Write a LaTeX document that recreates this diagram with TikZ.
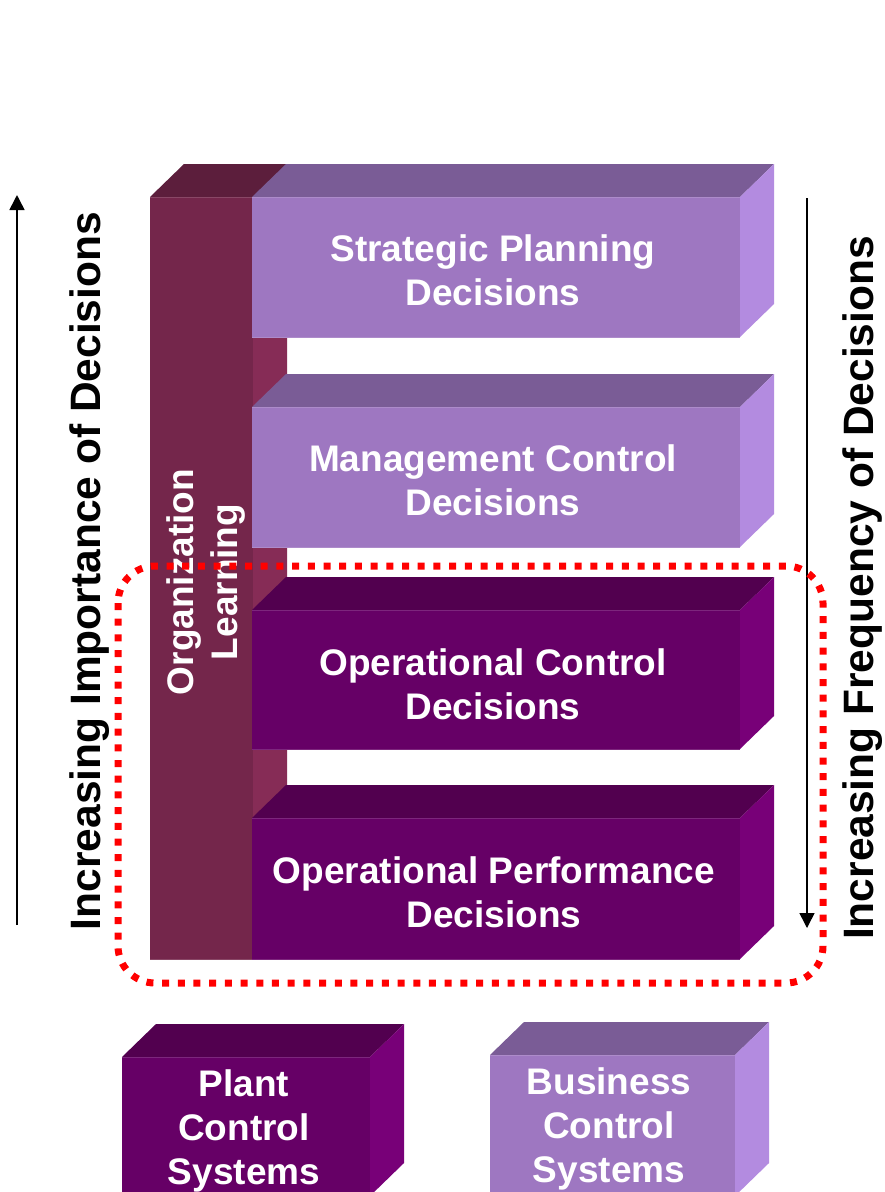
\documentclass[tikz,border=0pt]{standalone}
\usepackage{fontspec}
\setmainfont{Liberation Sans}
\usetikzlibrary{arrows.meta}
\definecolor{lpF}{HTML}{9E77C1}
\definecolor{lpT}{HTML}{7A5C96}
\definecolor{lpS}{HTML}{B38BE0}
\definecolor{dpF}{HTML}{660066}
\definecolor{dpT}{HTML}{52004F}
\definecolor{dpS}{HTML}{780078}
\definecolor{olF}{HTML}{74264B}
\definecolor{olT}{HTML}{5C1E3C}
\definecolor{olS}{HTML}{862C56}
\definecolor{dotred}{HTML}{FF0000}
% cuboid: x1 y1 x2 y2 frontcolour topcolour sidecolour
\newcommand\mycuboid[7]{%
  \fill[#6] (#1,#2) -- ({#1+34},{#2-33}) -- ({#3+34},{#2-33}) -- (#3,#2) -- cycle;
  \fill[#7] (#3,#2) -- ({#3+34},{#2-33}) -- ({#3+34},{#4-33}) -- (#3,#4) -- cycle;
  \fill[#5] (#1,#2) rectangle (#3,#4);
  \draw[#5!85!white, line width=1pt] (#1,#2) -- (#3,#2);
  \draw[#5!85!white, line width=1pt] (#1,#4) -- (#3,#4);
}
\tikzset{
  boxtext/.style={text=white, font=\bfseries\fontsize{37}{44}\selectfont, align=center, inner sep=0pt},
  sidelabel/.style={text=black, font=\bfseries\fontsize{42.5}{50}\selectfont, inner sep=0pt, rotate=90, anchor=base},
  axisarrow/.style={line width=1.5pt, -{Triangle[width=15pt,length=15pt]}},
  dottedframe/.style={draw=dotred, line width=7pt, dash pattern=on 7pt off 8.7pt, rounded corners=37pt}
}
\begin{document}
\begin{tikzpicture}[x=1pt,y=-1pt]
\useasboundingbox (0,0) rectangle (885,1192);
\clip (0,0) rectangle (885,1192);
\fill[white] (0,0) rectangle (885,1192);
% organization learning column
\mycuboid{150}{197}{253}{959}{olF}{olT}{olS}
% decision boxes
\mycuboid{252}{197}{740}{337}{lpF}{lpT}{lpS}
\mycuboid{252}{407}{740}{547}{lpF}{lpT}{lpS}
\mycuboid{252}{610}{740}{749}{dpF}{dpT}{dpS}
\mycuboid{252}{818}{740}{959}{dpF}{dpT}{dpS}
% systems boxes
\mycuboid{122}{1057}{370}{1196}{dpF}{dpT}{dpS}
\mycuboid{490}{1055}{735}{1196}{lpF}{lpT}{lpS}
% texts
\node[boxtext] (strat) at (493,270) {Strategic Planning\\Decisions};
\node[boxtext] (mgmt) at (493,480) {Management Control\\Decisions};
\node[boxtext] (opc) at (493,684) {Operational Control\\Decisions};
\node[boxtext] (opp) at (494,892) {Operational Performance\\Decisions};
\node[boxtext] (plant) at (244,1131) {Plant\\Control\\Systems};
\node[boxtext] (bus) at (609,1129) {Business\\Control\\Systems};
\node[boxtext, rotate=90] (ol) at (206,582) {Organization\\Learning};
% side labels and arrows
\node[sidelabel] (imp) at (100,571) {Increasing Importance of Decisions};
\node[sidelabel] (freq) at (873,588) {Increasing Frequency of Decisions};
\coordinate (la1) at (17,925);
\coordinate (la2) at (17,195);
\coordinate (ra1) at (807,198);
\coordinate (ra2) at (807,928);
\draw[axisarrow] (la1) -- (la2);
\draw[axisarrow] (ra1) -- (ra2);
% dotted frame
\draw[dottedframe] (118,566) rectangle (823,983);
\end{tikzpicture}
\end{document}
